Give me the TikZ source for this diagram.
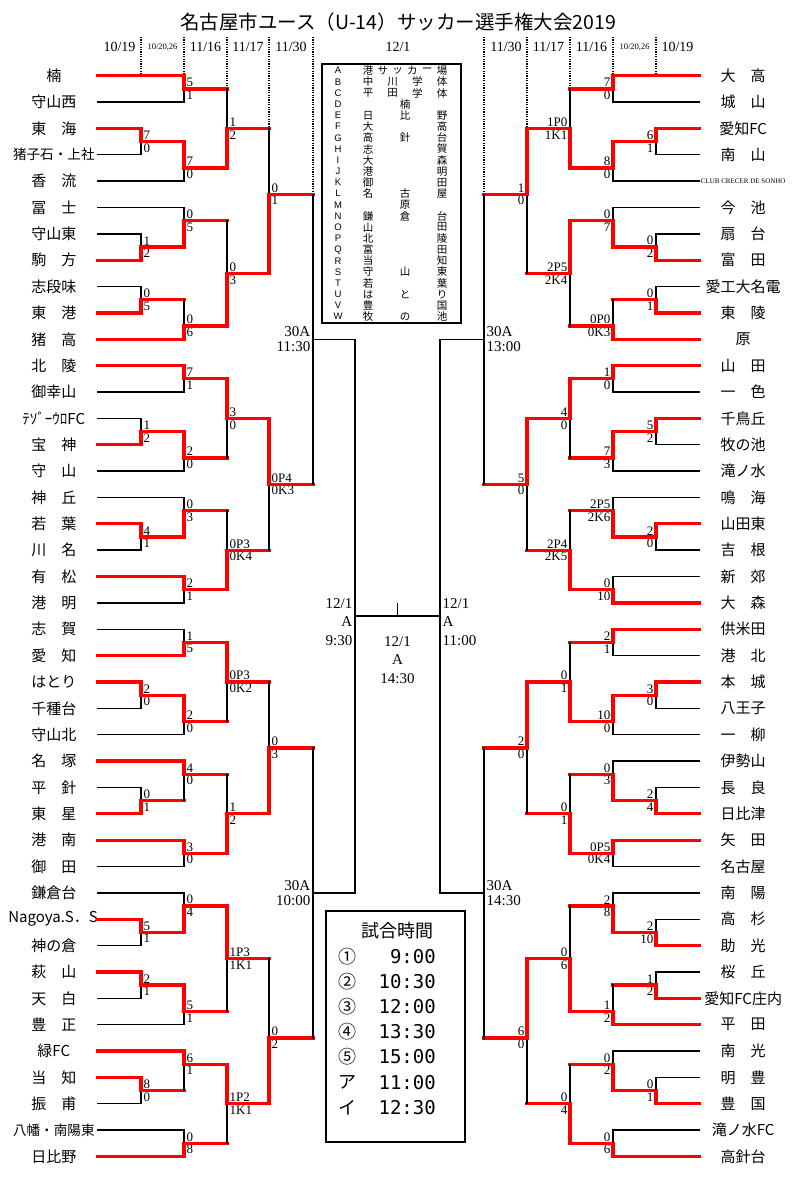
\documentclass[tikz,border=0pt]{standalone}
\usepackage{fontspec}
\setmainfont{Liberation Serif}
\newfontfamily\jp{Noto Sans CJK JP}
\newfontfamily\arl{Liberation Sans}
\newfontfamily\mono{DejaVu Sans Mono}
\usetikzlibrary{calc}
\newcommand\rw[1]{75.7+26.36*#1}
\newcommand\nm{\fontsize{13.6}{14}\selectfont}
\begin{document}
\begin{tikzpicture}[x=1pt, y=-1pt,
	team/.style={inner sep=0pt, minimum width=88pt, font=\jp\fontsize{15}{15}\selectfont},
	sc/.style={inner xsep=2.5pt, inner ysep=1.8pt, font=\fontsize{13}{13}\selectfont},
	tm/.style={inner xsep=2.5pt, inner ysep=2pt, font=\fontsize{15}{18.5}\selectfont},
	day/.style={inner sep=0pt, font=\fontsize{14}{14}\selectfont},
	win/.style={draw=red, line width=3.3pt, line cap=rect},
	lose/.style={draw=black, line width=1.4pt, line cap=rect},
	dot/.style={line width=1.2pt, dash pattern=on 1.2pt off 1.2pt},
	box/.style={line width=2pt},
	vl/.style={inner sep=0pt, font=\arl\fontsize{9.5}{9.5}\selectfont},
	vc/.style={inner sep=0pt, font=\jp\fontsize{10.5}{10.5}\selectfont},
	tt/.style={inner sep=0pt, font=\jp\fontsize{18}{18}\selectfont},
	th/.style={inner sep=0pt, font=\mono\fontsize{19}{19}\selectfont}]
	\useasboundingbox (0,0) rectangle (800,1184);
	
	\node[font=\jp\fontsize{19.5}{20}\selectfont] (title) at (398,22) {名古屋市ユース（U-14）サッカー選手権大会2019};
	\foreach \x/\d [count=\i] in {119.5/{10/19}, 162.5/{\fontsize{8.5}{9}\selectfont 10/20,26}, 205.5/{11/16}, 248/{11/17}, 291/{11/30}, 398/{12/1},
		506/{11/30}, 548.5/{11/17}, 591.5/{11/16}, 634.5/{\fontsize{8.5}{9}\selectfont 10/20,26}, 677.5/{10/19}}
		\node[day] (d\i) at (\x,47) {\d};
	
	\foreach \t [count=\i from 0] in {楠, 守山西, 東　海, {\nm 猪子石・上社}, 香　流, 冨　士, 守山東, 駒　方, 志段味, 東　港, 猪　高,
		北　陵, 御幸山, ﾃｿﾞｰｳﾛFC, 宝　神, 守　山, 神　丘, 若　葉, 川　名, 有　松, 港　明,
		志　賀, 愛　知, はとり, 千種台, 守山北, 名　塚, 平　針, 東　星, 港　南, 御　田,
		鎌倉台, Nagoya.S．S, 神の倉, 萩　山, 天　白, 豊　正, 緑FC, 当　知, 振　甫, {\nm 八幡・南陽東}, 日比野}
		\node[team, anchor=east] (tL\i) at (98,{\rw{\i}}) {\t};
	\foreach \t [count=\i from 0] in {大　高, 城　山, 愛知FC, 南　山, {\rmfamily\fontsize{7}{7}\selectfont CLUB CRECER DE SONHO}, 今　池, 扇　台, 富　田, 愛工大名電, 東　陵, 原,
		山　田, 一　色, 千鳥丘, 牧の池, 滝ノ水, 鳴　海, 山田東, 吉　根, 新　郊, 大　森,
		供米田, 港　北, 本　城, 八王子, 一　柳, 伊勢山, 長　良, 日比津, 矢　田, 名古屋,
		南　陽, 高　杉, 助　光, 桜　丘, 愛知FC庄内, 平　田, 南　光, 明　豊, 豊　国, 滝ノ水FC, 高針台}
		\node[team, anchor=west] (tR\i) at (699,{\rw{\i}}) {\t};
	
	\foreach \m/\x/\r in {la1/141/2.5, la2/184/0.5, la3/184/3.5, la4/227/2, la5/141/6.5, la6/141/8.5, la7/184/5.5, la8/184/9.5, la9/227/7.5, la10/269/4.5,
		lb1/184/11.5, lb2/141/13.5, lb3/184/14.5, lb4/227/13, lb5/141/17.5, lb6/184/16.5, lb7/184/19.5, lb8/227/18, lb9/269/15.5,
		lc1/184/21.5, lc2/141/23.5, lc3/184/24.5, lc4/227/23, lc5/141/27.5, lc6/184/26.5, lc7/184/29.5, lc8/227/28, lc9/269/25.5,
		ld1/141/32.5, ld2/184/31.5, ld3/141/34.5, ld4/184/35.5, ld5/227/33.5, ld6/141/38.5, ld7/184/37.5, ld8/184/40.5, ld9/227/39, ld10/269/36.5,
		ls1/313/10, ls2/313/31, lf/355/20.5,
		ra1/613/0.5, ra2/656/2.5, ra3/613/3.5, ra4/570/2, ra5/656/6.5, ra6/613/5.5, ra7/656/8.5, ra8/613/9.5, ra9/570/7.5, ra10/527/4.5,
		rb1/613/11.5, rb2/656/13.5, rb3/613/14.5, rb4/570/13, rb5/656/17.5, rb6/613/16.5, rb7/613/19.5, rb8/570/18, rb9/527/15.5,
		rc1/613/21.5, rc2/656/23.5, rc3/613/24.5, rc4/570/23, rc5/656/27.5, rc6/613/26.5, rc7/613/29.5, rc8/570/28, rc9/527/25.5,
		rd1/656/32.5, rd2/613/31.5, rd3/656/34.5, rd4/613/35.5, rd5/570/33.5, rd6/656/38.5, rd7/613/37.5, rd8/613/40.5, rd9/570/39, rd10/527/36.5,
		rs1/484/10, rs2/484/31, rf/440/20.5}
		\coordinate (\m) at (\x,{\rw{\r}});
	\coordinate (fm) at ($(lf)!0.5!(rf)$);
	\coordinate (ft) at ([yshift=12pt]fm);
	
	\foreach \x/\e [count=\i] in {141/tL0.east, 184/tL0.east, 227/la2, 269/la4, 313/la10, 484/ra10, 527/ra4, 570/ra1, 613/tR0.west, 656/tR0.west}{
		\coordinate (dt\i) at (\x,37);
		\draw[dot] (dt\i) -- (dt\i |- \e);}
	
	\foreach \m/\w/\l/\h/\p/\q in {la1/tL2.east/tL3.east/lose/7/0, la2/tL0.east/tL1.east/lose/5/1, la3/la1/tL4.east/lose/7/0, la4/la3/la2/win/1/2,
		la5/tL7.east/tL6.east/lose/1/2, la6/tL9.east/tL8.east/lose/0/5, la7/la5/tL5.east/lose/0/5, la8/tL10.east/la6/win/0/6, la9/la8/la7/win/0/3, la10/la9/la4/win/0/1,
		lb1/tL11.east/tL12.east/lose/7/1, lb2/tL14.east/tL13.east/lose/1/2, lb3/lb2/tL15.east/lose/2/0, lb4/lb1/lb3/win/3/0,
		lb5/tL17.east/tL18.east/lose/4/1, lb6/lb5/tL16.east/lose/0/3, lb7/tL19.east/tL20.east/lose/2/1, lb8/lb7/lb6/win/0P3/0K4, lb9/lb4/lb8/win/0P4/0K3,
		lc1/tL22.east/tL21.east/lose/1/5, lc2/tL23.east/tL24.east/lose/2/0, lc3/lc2/tL25.east/lose/2/0, lc4/lc1/lc3/win/0P3/0K2,
		lc5/tL28.east/tL27.east/lose/0/1, lc6/tL26.east/lc5/win/4/0, lc7/tL29.east/tL30.east/lose/3/0, lc8/lc7/lc6/win/1/2, lc9/lc8/lc4/win/0/3,
		ld1/tL32.east/tL33.east/lose/5/1, ld2/ld1/tL31.east/lose/0/4, ld3/tL34.east/tL35.east/lose/2/1, ld4/ld3/tL36.east/lose/5/1, ld5/ld2/ld4/win/1P3/1K1,
		ld6/tL38.east/tL39.east/lose/8/0, ld7/tL37.east/ld6/win/6/1, ld8/tL41.east/tL40.east/lose/0/8, ld9/ld7/ld8/win/1P2/1K1, ld10/ld9/ld5/win/0/2}{
		\draw[\h] (\l) -- (\l -| \m);
		\draw[lose] (\l -| \m) -- (\m);
		\draw[win] (\w) -| (\m);
		\node[sc, anchor=south west] (\m-t) at (\m) {\p};
		\node[sc, anchor=north west] (\m-b) at (\m) {\q};}
	\foreach \m/\w/\l/\h/\p/\q in {ra1/tR0.west/tR1.west/lose/7/0, ra2/tR2.west/tR3.west/lose/6/1, ra3/ra2/tR4.west/lose/8/0, ra4/ra3/ra1/win/1P0/1K1,
		ra5/tR7.west/tR6.west/lose/0/2, ra6/ra5/tR5.west/lose/0/7, ra7/tR9.west/tR8.west/lose/0/1, ra8/tR10.west/ra7/win/0P0/0K3, ra9/ra6/ra8/win/2P5/2K4, ra10/ra4/ra9/win/1/0,
		rb1/tR11.west/tR12.west/lose/1/0, rb2/tR13.west/tR14.west/lose/5/2, rb3/rb2/tR15.west/lose/7/3, rb4/rb1/rb3/win/4/0,
		rb5/tR17.west/tR18.west/lose/2/0, rb6/rb5/tR16.west/lose/2P5/2K6, rb7/tR20.west/tR19.west/lose/0/10, rb8/rb7/rb6/win/2P4/2K5, rb9/rb4/rb8/win/5/0,
		rc1/tR21.west/tR22.west/lose/2/1, rc2/tR23.west/tR24.west/lose/3/0, rc3/rc2/tR25.west/lose/10/0, rc4/rc3/rc1/win/0/1,
		rc5/tR28.west/tR27.west/lose/2/4, rc6/rc5/tR26.west/lose/0/3, rc7/tR29.west/tR30.west/lose/0P5/0K4, rc8/rc7/rc6/win/0/1, rc9/rc4/rc8/win/2/0,
		rd1/tR33.west/tR32.west/lose/2/10, rd2/rd1/tR31.west/lose/2/8, rd3/tR35.west/tR34.west/lose/1/2, rd4/tR36.west/rd3/win/1/2, rd5/rd4/rd2/win/0/6,
		rd6/tR39.west/tR38.west/lose/0/1, rd7/rd6/tR37.west/lose/0/2, rd8/tR41.west/tR40.west/lose/0/6, rd9/rd8/rd7/win/0/4, rd10/rd5/rd9/win/6/0}{
		\draw[\h] (\l) -- (\l -| \m);
		\draw[lose] (\l -| \m) -- (\m);
		\draw[win] (\w) -| (\m);
		\node[sc, anchor=south east] (\m-t) at (\m) {\p};
		\node[sc, anchor=north east] (\m-b) at (\m) {\q};}
	
	\foreach \a/\m in {la10/ls1, lb9/ls1, lc9/ls2, ld10/ls2, ra10/rs1, rb9/rs1, rc9/rs2, rd10/rs2}{
		\draw[win] (\a) -- (\a -| \m);
		\draw[lose] (\a -| \m) -- (\m);}
	\foreach \a/\m in {ls1/lf, ls2/lf, rs1/rf, rs2/rf}
		\draw[lose] (\a) -| (\m);
	\draw[lose] (lf) -- (rf) (fm) -- (ft);
	\foreach \m/\s/\t in {ls1/east/11:30, ls2/east/10:00, rs1/west/13:00, rs2/west/14:30}{
		\node[tm, anchor=south \s] (\m-a) at (\m) {30A};
		\node[tm, anchor=north \s] (\m-b) at (\m) {\t};}
	\node[tm, align=right, anchor=east] (lf-a) at ([yshift=-6pt]lf) {12/1\\A\\9:30};
	\node[tm, align=left, anchor=west] (rf-a) at ([yshift=-6pt]rf) {12/1\\A\\11:00};
	\node[tm, align=center, anchor=north] (fm-a) at ([yshift=-18pt]fm) {12/1\\A\\14:30};
	
	\draw[box] (321.7,64) rectangle (461,323);
	\foreach \v/\n/\c [count=\r from 0] in {A/6/{港,サ,ッ,カ,ー,場}, B/4/{中,川,学,体}, C/4/{平,田,学,体}, D/1/{楠}, E/3/{日,比,野}, F/2/{大,高},
		G/3/{高,針,台}, H/2/{志,賀}, I/2/{大,森}, J/2/{港,明}, K/2/{御,田}, L/3/{名,古,屋}, M/1/{原}, N/3/{鎌,倉,台}, O/2/{山,田},
		P/2/{北,陵}, Q/2/{富,田}, R/2/{当,知}, S/3/{守,山,東}, T/2/{若,葉}, U/3/{は,と,り}, V/2/{豊,国}, W/3/{牧,の,池}}{
		\node[vl] (v\v) at (338,{70.7+11.18*\r}) {\v};
		\foreach \k [count=\j] in \c
			\node[vc] (v\v\j) at ({368+37*(\n==1)+(\j-1)*74/(\n-1+(\n==1))},{70.7+11.18*\r}) {\k};}
	
	\draw[box] (326,911) rectangle (465,1142);
	\node[tt] (tt0) at (397,931) {試合時間};
	\foreach \k/\h [count=\i] in {①/9:00, ②/10:30, ③/12:00, ④/13:30, ⑤/15:00, ア/11:00, イ/12:30}{
		\node[tt, anchor=west] (tk\i) at (338,{931+25.2*\i}) {\k};
		\node[th, anchor=east] (th\i) at (436,{931+25.2*\i}) {\h};}
\end{tikzpicture}
\end{document}
